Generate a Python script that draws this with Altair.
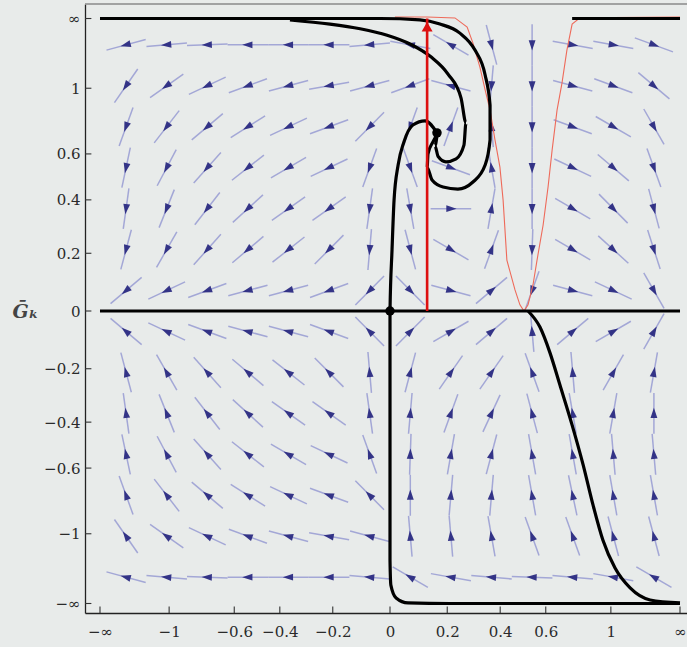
import altair as alt
import pandas as pd
import numpy as np

# ---------------- axis ticks (compactified axes: position = tanh(value)) ----
tick_labels = ["−∞", "−1", "−0.6", "−0.4", "−0.2", "0", "0.2", "0.4", "0.6", "1", "∞"]
tick_numbers = [-np.inf, -1, -0.6, -0.4, -0.2, 0, 0.2, 0.4, 0.6, 1, np.inf]
tick_pos = [float(np.tanh(t)) for t in tick_numbers]

# ---------------- stream-field grid (compact coords) and arrow directions ----
u_cols = [-0.91, -0.77, -0.63, -0.49, -0.35, -0.21, -0.07, 0.07, 0.21, 0.35, 0.49, 0.63, 0.77, 0.91]
v_rows = [0.91, 0.77, 0.63, 0.49, 0.35, 0.21, 0.07, -0.07, -0.21, -0.35, -0.49, -0.63, -0.77, -0.91]
# direction of each arrow, degrees counter-clockwise from +x (rows top -> bottom)
angles = [
    [195, 185, 182, 180, 180, 180, 185, 170, 150, 285, 270, 350, 350, 340],
    [235, 215, 205, 200, 195, 190, 195, 200, 165, 265, 270, 345, 340, 320],
    [250, 232, 220, 212, 205, 200, 225, 250, 70, 95, 270, 340, 330, 300],
    [258, 242, 228, 218, 210, 205, 250, 290, 340, 100, 270, 335, 320, 290],
    [262, 248, 232, 222, 215, 215, 262, 280, 0, 80, 270, 330, 315, 285],
    [255, 240, 228, 220, 218, 225, 265, 285, 330, 70, 268, 330, 318, 288],
    [220, 205, 200, 195, 195, 200, 225, 315, 345, 40, 250, 345, 335, 300],
    [140, 155, 160, 165, 165, 160, 135, 45, 30, 40, 95, 40, 30, 60],
    [105, 120, 132, 140, 142, 135, 95, 75, 55, 55, 110, 95, 60, 80],
    [98, 112, 128, 138, 145, 145, 98, 85, 70, 65, 105, 100, 80, 90],
    [102, 118, 132, 142, 150, 155, 110, 88, 80, 75, 100, 100, 95, 95],
    [110, 128, 140, 148, 155, 160, 135, 90, 85, 85, 100, 102, 100, 100],
    [125, 145, 155, 160, 165, 170, 165, 95, 95, 100, 110, 110, 105, 105],
    [165, 175, 178, 180, 180, 180, 175, 150, 170, 175, 178, 175, 170, 150],
]

# ---------------- thick black trajectories (compact coords) ------------------
spiral_outer_u = [-1.0, -0.655, -0.310, -0.034, 0.103, 0.172, 0.241, 0.293, 0.328, 0.345, 0.345, 0.328,
                  0.286, 0.234, 0.183, 0.145, 0.128, 0.131, 0.148, 0.162]
spiral_outer_v = [1.0, 1.0, 1.0, 1.0, 0.995, 0.981, 0.950, 0.892, 0.807, 0.704, 0.585, 0.499,
                  0.441, 0.417, 0.424, 0.448, 0.490, 0.537, 0.578, 0.602]
spiral_inner_u = [-0.345, -0.207, -0.103, -0.010, 0.069, 0.141, 0.200, 0.245, 0.262, 0.255, 0.228,
                  0.193, 0.166, 0.155, 0.162]
spiral_inner_v = [0.995, 0.981, 0.965, 0.943, 0.913, 0.869, 0.810, 0.728, 0.643, 0.567, 0.520,
                  0.510, 0.528, 0.565, 0.599]
separatrix_u = [0.162, 0.121, 0.079, 0.048, 0.028, 0.014, 0.007, 0.0, 0.0, 0.0, 0.0, 0.003, 0.021,
                0.062, 0.207, 0.552, 1.0]
separatrix_v = [0.609, 0.650, 0.636, 0.578, 0.499, 0.379, 0.209, 0.0, -0.304, -0.646, -0.852, -0.937,
                -0.981, -0.998, -1.0, -1.0, -1.0]
right_u = [0.476, 0.517, 0.552, 0.586, 0.628, 0.666, 0.700, 0.734, 0.776, 0.828, 0.897, 1.0]
right_v = [0.0, -0.055, -0.144, -0.253, -0.390, -0.526, -0.663, -0.783, -0.879, -0.947, -0.988, -0.998]
axis0_u = [-1.0, 1.0]
axis0_v = [0.0, 0.0]
topright_u = [0.628, 1.0]
topright_v = [1.0, 1.0]

# ---------------- thin red curve ---------------------------------------------
red_u = [0.017, 0.128, 0.224, 0.266, 0.286, 0.310, 0.328, 0.345, 0.362, 0.379, 0.390, 0.403, 0.431,
         0.448, 0.462, 0.476, 0.493, 0.507, 0.528, 0.545, 0.559, 0.576, 0.593, 0.610, 0.628, 0.655, 1.0]
red_v = [1.005, 1.005, 1.002, 0.971, 0.916, 0.834, 0.756, 0.687, 0.585, 0.492, 0.379, 0.174, 0.072,
         0.021, 0.0, 0.021, 0.089, 0.174, 0.294, 0.424, 0.550, 0.687, 0.779, 0.892, 0.981, 1.002, 1.005]

# red vertical line and fixed points
red_line_u = 0.128
red_line_v = [0.0, 1.0]
red_arrow_v = 0.972
fixed_u = [0.0, 0.162]
fixed_v = [0.0, 0.609]

# ---------------- build tables ------------------------------------------------
field = pd.DataFrame(
    [{"u": u, "v": v, "theta": angles[r][c]} for r, v in enumerate(v_rows) for c, u in enumerate(u_cols)]
)
field["rot"] = (90 - field["theta"]) % 360

curves = []
for name, us, vs in [("outer", spiral_outer_u, spiral_outer_v), ("inner", spiral_inner_u, spiral_inner_v),
                     ("sep", separatrix_u, separatrix_v), ("right", right_u, right_v),
                     ("axis0", axis0_u, axis0_v), ("topright", topright_u, topright_v)]:
    for i, (a, b) in enumerate(zip(us, vs)):
        curves.append({"curve": name, "i": i, "u": a, "v": b})
curves = pd.DataFrame(curves)
red = pd.DataFrame({"u": red_u, "v": red_v, "i": range(len(red_u))})

U_MIN, U_MAX = -1.0517, 1.0241
V_MIN, V_MAX = -1.0325, 1.0496

def label_expr(pos, labels):
    expr = "''"
    for p, l in reversed(list(zip(pos, labels))):
        expr = f"abs(datum.value - ({p:.5f})) < 0.005 ? '{l}' : " + expr
    return expr

xscale = alt.Scale(domain=[U_MIN, U_MAX], nice=False, zero=False)
yscale = alt.Scale(domain=[V_MIN, V_MAX], nice=False, zero=False)
FONT = "DejaVu Serif"
xaxis = alt.Axis(values=tick_pos, labelExpr=label_expr(tick_pos, tick_labels), tickSize=0, labelPadding=11,
                 labelFont=FONT, labelFontSize=15, labelColor="#2a2a2a", domainColor="#222", domainWidth=1.3,
                 grid=False, title=None, labelFlush=False, labelOverlap=False)
yaxis = alt.Axis(values=tick_pos, labelExpr=label_expr(tick_pos, tick_labels), tickSize=0, labelPadding=5,
                 labelFont=FONT, labelFontSize=15, labelColor="#2a2a2a", domainColor="#222", domainWidth=1.3,
                 grid=False, labelFlush=False, labelOverlap=False,
                 title="Ḡₖ", titleAngle=0, titleX=-60, titleY=307, titleFont=FONT, titleFontSize=19,
                 titleFontStyle="italic", titleFontWeight="bold", titleColor="#444",
                 titleAlign="center", titleBaseline="middle")

def X(f="u"):
    return alt.X(f"{f}:Q", scale=xscale, axis=xaxis)

def Y(f="v"):
    return alt.Y(f"{f}:Q", scale=yscale, axis=yaxis)

L = 0.07
stream = alt.Chart(field).transform_calculate(
    x1=f"datum.u - {L}*cos(datum.theta*PI/180)", x2=f"datum.u + {L}*cos(datum.theta*PI/180)",
    y1=f"datum.v - {L}*sin(datum.theta*PI/180)", y2=f"datum.v + {L}*sin(datum.theta*PI/180)",
).mark_rule(stroke="#a3a7d6", strokeWidth=1.5, clip=True).encode(
    x=X("x1"), y=Y("y1"), x2="x2:Q", y2="y2:Q")

heads = alt.Chart(field).mark_point(
    shape="M0,-1L0.6,0.8L-0.6,0.8Z", filled=True, fill="#2b2b82", strokeWidth=0, size=130, opacity=0.95
).encode(x=X(), y=Y(), angle=alt.Angle("rot:Q", scale=None))

redcurve = alt.Chart(red).mark_line(color="#ee6a5a", strokeWidth=1.1).encode(x=X(), y=Y(), order="i:Q")

black = alt.Chart(curves).mark_line(color="black", strokeWidth=3.2, interpolate="monotone").encode(
    x=X(), y=Y(), detail="curve:N", order="i:Q")

redline_df = pd.DataFrame({"u": [red_line_u], "v0": [red_line_v[0]], "v1": [red_line_v[1]]})
redline = alt.Chart(redline_df).mark_rule(color="#dd1010", strokeWidth=2.6).encode(
    x=X(), y=Y("v0"), y2="v1:Q")
redarrow = alt.Chart(pd.DataFrame({"u": [red_line_u], "v": [red_arrow_v]})).mark_point(
    shape="triangle-up", filled=True, fill="#dd1010", strokeWidth=0, size=120, opacity=1).encode(x=X(), y=Y())

dots = alt.Chart(pd.DataFrame({"u": fixed_u, "v": fixed_v})).mark_circle(
    color="black", size=90, opacity=1).encode(x=X(), y=Y())

# inward tick marks
tick_len = 0.022
xt = pd.DataFrame({"u": tick_pos, "v0": [V_MIN] * len(tick_pos), "v1": [V_MIN + tick_len] * len(tick_pos)})
yt = pd.DataFrame({"v": tick_pos, "u0": [U_MIN] * len(tick_pos), "u1": [U_MIN + tick_len] * len(tick_pos)})
xticks = alt.Chart(xt).mark_rule(color="#333", strokeWidth=1.1).encode(x=X(), y=Y("v0"), y2="v1:Q")
yticks = alt.Chart(yt).mark_rule(color="#333", strokeWidth=1.1).encode(y=Y(), x=X("u0"), x2="u1:Q")
topframe = alt.Chart(pd.DataFrame({"u0": [U_MIN], "u1": [U_MAX], "v": [V_MAX]})).mark_rule(
    color="#8a8a8a", strokeWidth=1.5).encode(x=X("u0"), x2="u1:Q", y=Y())

chart = alt.layer(stream, heads, redcurve, black, redline, redarrow, dots, xticks, yticks, topframe).properties(
    width=602, height=609,
    autosize=alt.AutoSizeParams(type="none"),
    padding={"left": 85, "top": 4, "right": 0, "bottom": 34},
    background="#e8ebea",
).configure_view(stroke=None)

chart.save("out.html", embed_options={"renderer": "svg", "actions": False})
